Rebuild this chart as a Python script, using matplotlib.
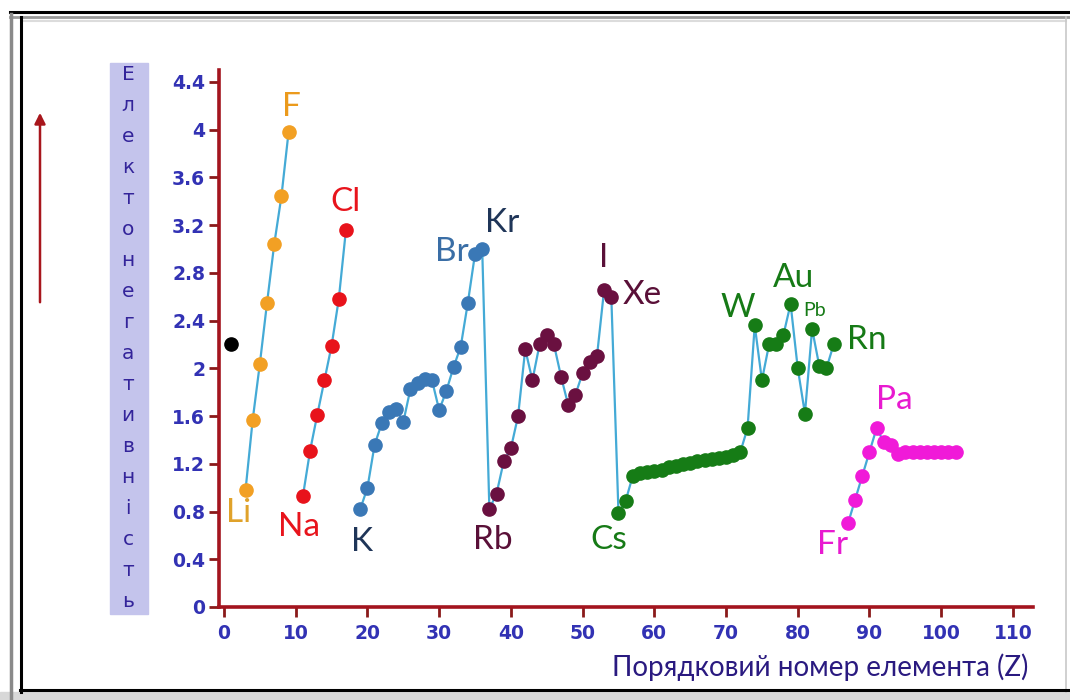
import matplotlib
matplotlib.use('Agg')
import matplotlib.pyplot as plt
from matplotlib.lines import Line2D
from matplotlib.patches import Rectangle, FancyArrowPatch

# electronegativity (Pauling) by period
z_h = [1]
en_h = [2.20]
z_p2 = list(range(3, 10))
en_p2 = [0.98, 1.57, 2.04, 2.55, 3.04, 3.44, 3.98]
z_p3 = list(range(11, 18))
en_p3 = [0.93, 1.31, 1.61, 1.90, 2.19, 2.58, 3.16]
z_p4 = list(range(19, 37))
en_p4 = [0.82, 1.00, 1.36, 1.54, 1.63, 1.66, 1.55, 1.83, 1.88, 1.91,
         1.90, 1.65, 1.81, 2.01, 2.18, 2.55, 2.96, 3.00]
z_p5 = list(range(37, 55))
en_p5 = [0.82, 0.95, 1.22, 1.33, 1.60, 2.16, 1.90, 2.20, 2.28, 2.20,
         1.93, 1.69, 1.78, 1.96, 2.05, 2.10, 2.66, 2.60]
z_p6 = list(range(55, 86))
en_p6 = [0.79, 0.89, 1.10, 1.12, 1.13, 1.14, 1.15, 1.17, 1.18, 1.20,
         1.21, 1.22, 1.23, 1.24, 1.25, 1.26, 1.27, 1.30, 1.50, 2.36,
         1.90, 2.20, 2.20, 2.28, 2.54, 2.00, 1.62, 2.33, 2.02, 2.00, 2.20]
z_p7 = list(range(87, 103))
en_p7 = [0.70, 0.90, 1.10, 1.30, 1.50, 1.38, 1.36, 1.28,
         1.30, 1.30, 1.30, 1.30, 1.30, 1.30, 1.30, 1.30]

y_ticks = [0, 0.4, 0.8, 1.2, 1.6, 2, 2.4, 2.8, 3.2, 3.6, 4, 4.4]
y_ticklabels = ['0', '0.4', '0.8', '1.2', '1.6', '2', '2.4', '2.8', '3.2', '3.6', '4', '4.4']
x_ticks = list(range(0, 111, 10))
y_letters = list('Електонегативність')
x_title = 'Порядковий номер елемента (Z)'

# (symbol, Z, value, colour, fontsize, dx px, dy px)
labels = [
    ('F', 9, 3.98, '#eb9a1c', 24, 3, 25),
    ('Cl', 17, 3.16, '#e8141c', 24, 0, 28),
    ('Li', 3, 0.98, '#e0a22a', 24, -7, -23),
    ('Na', 11, 0.93, '#e8141c', 24, -4, -31),
    ('K', 19, 0.82, '#1f3558', 24, 2, -33),
    ('Br', 35, 2.96, '#3a6ea6', 24, -23, 2),
    ('Kr', 36, 3.00, '#1f3558', 24, 20, 26),
    ('Rb', 37, 0.82, '#5a1038', 24, 3, -31),
    ('I', 53, 2.66, '#5a1038', 24, -1, 32),
    ('Xe', 54, 2.60, '#5a1038', 24, 31, 2),
    ('Cs', 55, 0.79, '#167a16', 24, -10, -27),
    ('W', 74, 2.36, '#167a16', 24, -17, 17),
    ('Au', 79, 2.54, '#167a16', 24, 3, 26),
    ('Pb', 82, 2.33, '#167a16', 14, 3, 18),
    ('Rn', 85, 2.20, '#167a16', 24, 33, 4),
    ('Pa', 91, 1.50, '#e81ad0', 24, 18, 28),
    ('Fr', 87, 0.70, '#e81ad0', 24, -15, -22),
]

W, H = 1070, 700
fig = plt.figure(figsize=(W / 100, H / 100), dpi=100)
fig.patch.set_facecolor('white')


def px(x, y):
    return x / W, 1 - y / H


# frame of the screenshot
def fline(xs, ys, color, lw):
    fx = [px(x, 0)[0] for x in xs]
    fy = [px(0, y)[1] for y in ys]
    fig.add_artist(Line2D(fx, fy, color=color, lw=lw, transform=fig.transFigure))


fline([10, 1070], [12, 12], 'black', 2.2)
fline([10, 1070], [17, 17], '#9a9a9a', 2.0)
fline([23, 1066], [21, 21], '#dcdcdc', 1.5)
fline([11, 11], [14, 700], '#8a8a8a', 2.5)
fline([21, 21], [17, 692], 'black', 2.2)
fline([1066, 1066], [17, 692], '#c8c8c8', 1.2)
fline([20, 1070], [690, 690], 'black', 2.2)
fig.add_artist(Rectangle(px(0, 700), 1, 8 / H, color='#d8d8d8', transform=fig.transFigure))

# red arrow on the left
fig.add_artist(FancyArrowPatch(px(40, 305), px(40, 110), transform=fig.transFigure,
                               arrowstyle='-|>', color='#a8161c', lw=1.8,
                               mutation_scale=16))

# vertical letter label on lavender band
fig.add_artist(Rectangle(px(110, 614), 38 / W, 551 / H, color='#c4c4ec',
                         transform=fig.transFigure, zorder=0))
for i, ch in enumerate(y_letters):
    yb = 80 + i * 31.0
    fig.text(*px(128, yb), ch, ha='center', va='baseline', fontsize=14.5,
             color='#33249a', family='DejaVu Sans', fontweight='medium')

ax = fig.add_axes([219 / W, 93 / H, 814 / W, 537 / H])
ax.set_xlim(-0.7, 112.8)
ax.set_ylim(0, 4.5)
ax.patch.set_alpha(0)

spine_c = '#a3141e'
for s in ['top', 'right']:
    ax.spines[s].set_visible(False)
for s in ['left', 'bottom']:
    ax.spines[s].set_color(spine_c)
    ax.spines[s].set_linewidth(2.6)

ax.set_yticks(y_ticks)
ax.set_yticklabels(y_ticklabels)
ax.set_xticks(x_ticks)
ax.tick_params(axis='both', colors='#8a1a1a', length=7, width=2, direction='out',
               labelcolor='#3232b4', labelsize=13.5)
ax.tick_params(axis='y', pad=3)
ax.tick_params(axis='x', pad=5)
for t in ax.get_xticklabels() + ax.get_yticklabels():
    t.set_fontweight('bold')
    t.set_family('DejaVu Sans')

line_c = '#44aad6'
ms = 9.5
groups = [
    (z_h, en_h, 'black'),
    (z_p2, en_p2, '#f2a024'),
    (z_p3, en_p3, '#e8131b'),
    (z_p4, en_p4, '#3a78b6'),
    (z_p5, en_p5, '#6a1040'),
    (z_p6, en_p6, '#167c16'),
    (z_p7, en_p7, '#f01ad8'),
]
for z, en, c in groups:
    ax.plot(z, en, 'o', color=c, ms=ms, mec=c, zorder=3, clip_on=False)

# connecting line: periods 4-6 are joined, others separate
ax.plot(z_p2, en_p2, color=line_c, lw=1.6, zorder=2)
ax.plot(z_p3, en_p3, color=line_c, lw=1.6, zorder=2)
ax.plot(z_p4 + z_p5 + z_p6, en_p4 + en_p5 + en_p6, color=line_c, lw=1.6, zorder=2)
ax.plot(z_p7, en_p7, color=line_c, lw=1.6, zorder=2)

for sym, z, v, c, fs, dx, dy in labels:
    ax.annotate(sym, xy=(z, v), xytext=(dx, dy), textcoords='offset pixels',
                ha='center', va='center', fontsize=fs, color=c, family='Lato')

fig.text(*px(1028, 667), x_title, ha='right', va='center', fontsize=20,
         color='#2a1a80', family='Lato')

fig.savefig('out.png', dpi=100)
